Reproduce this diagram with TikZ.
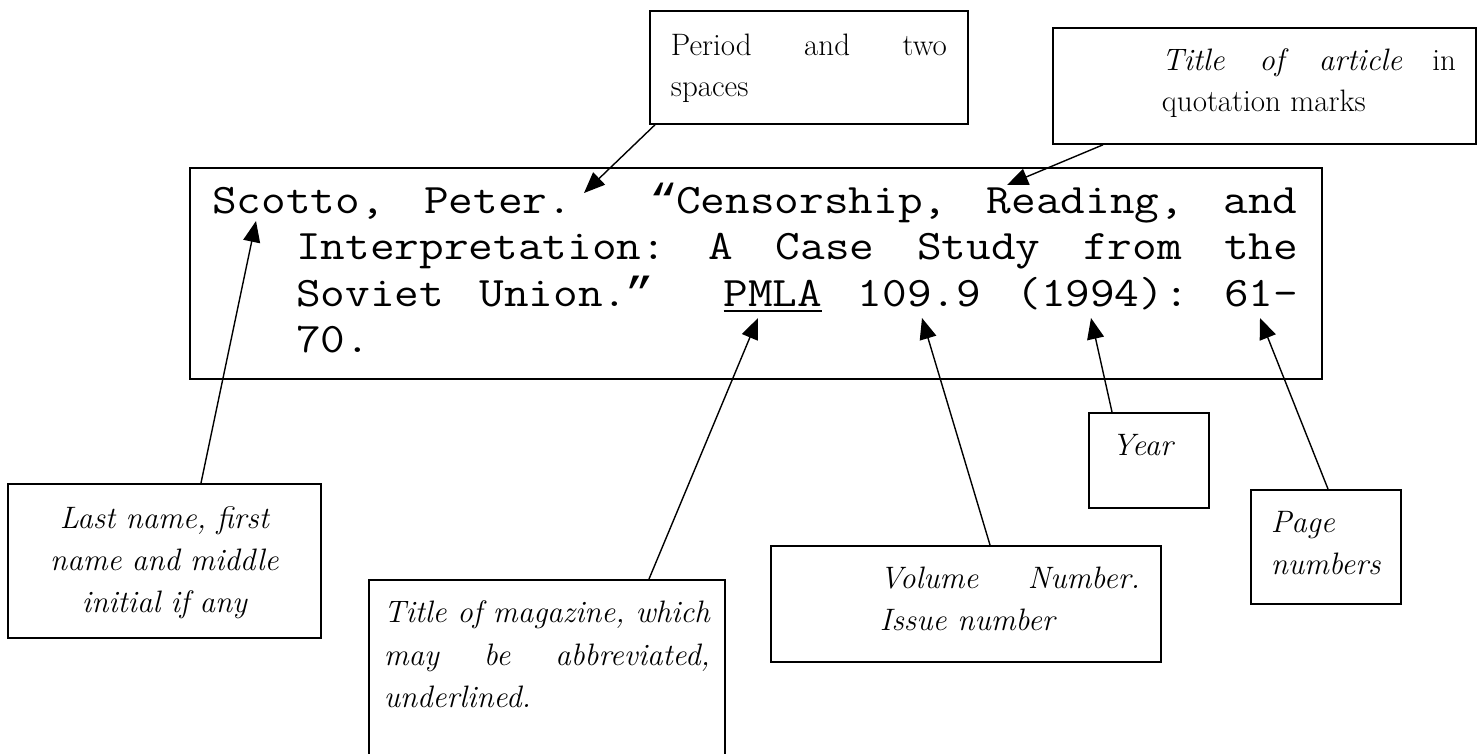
\documentclass[tikz,border=0pt]{standalone}
\usepackage{fontspec}
\newfontfamily\quotefont{Liberation Mono}
\usetikzlibrary{arrows.meta}

\newcommand{\jline}[2]{\frenchspacing\spaceskip=\fontdimen2\font plus 1fil\relax\makebox[#1][s]{#2}}
\newcommand{\ulmag}[1]{\setbox0\hbox{#1}\rlap{\rule[-6pt]{\wd0}{1.8pt}}\box0\relax}
\newcommand{\oq}{\makebox[0.525em]{\quotefont “}}
\newcommand{\cq}{\makebox[0.525em]{\quotefont ”}}

\begin{document}
\begin{tikzpicture}[x=1pt, y=-1pt,
  cite/.style = {font=\fontsize{42}{47}\selectfont\ttfamily, anchor=base west, inner sep=0pt, xscale=1.14, transform shape},
  note/.style = {draw, line width=1.8pt, anchor=north west, inner ysep=0pt, font=\fontsize{31}{42}\selectfont},
  ptr/.style = {line width=1.4pt, -{Triangle[length=21pt,width=17pt]}}]
\useasboundingbox (0,0) rectangle (1481,753);

\node[draw, line width=1.8pt, anchor=north west, inner sep=0pt, minimum width=1132pt, minimum height=211pt] (ref) at (189,167) {};
\node[cite] (l1) at (212,213) {\jline{952pt}{Scotto, Peter.\ \ \oq Censorship, Reading, and}};
\node[cite] (l2) at (296,259.5) {\jline{879pt}{Interpretation: A Case Study from the}};
\node[cite] (l3) at (296,306) {\jline{879pt}{Soviet Union.\cq\ \ \ulmag{PMLA} 109.9 (1994): 61-}};
\node[cite] (l4) at (296,352.5) {70.};

\node[note, text width=276pt, inner xsep=21pt, text height=45pt, text depth=68pt, align=justify, font=\fontsize{31}{41}\selectfont] (pbox) at (649,10) {Period and two\linebreak spaces};
\node[note, text width=383pt, inner xsep=20pt, text height=43pt, text depth=73pt, align=justify, font=\fontsize{31}{41}\selectfont] (tbox) at (1052,27) {\leftskip=89pt \textit{Title of article} in\linebreak quotation marks\par};
\node[note, text width=293pt, inner xsep=10pt, text height=45pt, text depth=109pt, align=center, font=\fontsize{31}{42}\selectfont\itshape] (nbox) at (7,483) {Last name, first\\ name and middle\\ initial if any};
\node[note, text width=326pt, inner xsep=15pt, text height=43pt, text depth=140pt, align=justify, font=\fontsize{31}{42.5}\selectfont\itshape] (mbox) at (368,579) {Title of magazine, which\linebreak may be abbreviated,\linebreak underlined.};
\node[note, text width=348pt, inner xsep=21pt, text height=43pt, text depth=73pt, align=justify, font=\fontsize{31}{42}\selectfont\itshape] (vbox) at (770,545) {\leftskip=88pt Volume Number.\linebreak Issue number\par};
\node[note, text width=74pt, inner xsep=23pt, text height=43pt, text depth=52pt, align=left, font=\fontsize{31}{42}\selectfont\itshape] (ybox) at (1088,412) {Year};
\node[note, text width=110pt, inner xsep=20pt, text height=43pt, text depth=71pt, align=left, font=\fontsize{31}{42}\selectfont\itshape] (gbox) at (1250,489) {Page\\ numbers};

\coordinate (tP) at (584,193);
\coordinate (tT) at (1007,185);
\coordinate (tN) at (256,221);
\coordinate (tM) at (758,318);
\coordinate (tV) at (922,318);
\coordinate (tY) at (1091,318);
\coordinate (tG) at (1260,318);

\draw[ptr] ([xshift=6pt]pbox.south west) -- (tP);
\draw[ptr] ([xshift=51pt]tbox.south west) -- (tT);
\draw[ptr] ([xshift=194pt]nbox.north west) -- (tN);
\draw[ptr] ([xshift=281pt]mbox.north west) -- (tM);
\draw[ptr] ([xshift=220pt]vbox.north west) -- (tV);
\draw[ptr] ([xshift=24pt]ybox.north west) -- (tY);
\draw[ptr] ([xshift=78pt]gbox.north west) -- (tG);
\end{tikzpicture}
\end{document}
